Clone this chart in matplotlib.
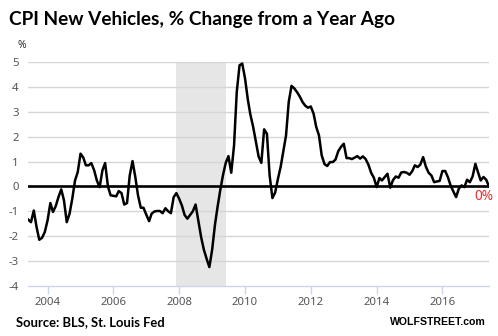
import matplotlib
matplotlib.use("Agg")
import matplotlib.pyplot as plt
import matplotlib.dates as mdates
import pandas as pd

# Monthly year-over-year change in CPI for new vehicles, Jun 2003 - Jun 2017
start_month = "2003-06-01"
cpi_yoy = [
    -1.34, -1.44, -0.97, -1.64, -2.15, -2.07, -1.84, -1.37, -0.67, -1.03,
    -0.79, -0.43, -0.12, -0.56, -1.44, -1.10, -0.50, 0.24, 0.58, 1.32,
    1.16, 0.85, 0.85, 0.94, 0.65, 0.24, -0.03, 0.65, 0.94, 0.00,
    -0.36, -0.38, -0.40, -0.19, -0.27, -0.73, -0.67, 0.44, 1.02, 0.38,
    -0.36, -0.86, -0.86, -1.14, -1.40, -1.10, -1.01, -0.99, -0.99, -1.08,
    -0.88, -1.00, -1.08, -0.43, -0.27, -0.50, -0.78, -1.15, -1.30, -1.15,
    -1.00, -0.73, -1.40, -2.05, -2.55, -2.92, -3.25, -2.55, -1.55, -0.85,
    -0.15, 0.45, 0.95, 1.22, 0.55, 1.65, 3.80, 4.88, 4.95, 4.35,
    3.50, 2.90, 2.40, 1.80, 1.20, 0.95, 2.30, 2.12, 0.44, -0.47,
    -0.25, 0.30, 0.80, 1.40, 2.05, 3.40, 4.05, 3.95, 3.80, 3.62,
    3.40, 3.25, 3.17, 3.22, 2.93, 2.40, 2.05, 1.25, 0.90, 0.82,
    0.98, 0.98, 1.08, 1.42, 1.59, 1.72, 1.14, 1.14, 1.10, 1.16,
    1.22, 1.12, 1.21, 1.10, 0.88, 0.55, 0.35, -0.03, 0.34, 0.24,
    0.38, 0.51, -0.05, 0.25, 0.40, 0.35, 0.56, 0.58, 0.55, 0.47,
    0.62, 0.85, 0.78, 0.88, 1.18, 0.80, 0.55, 0.44, 0.17, 0.20,
    0.22, 0.62, 0.62, 0.38, 0.04, -0.20, -0.43, -0.09, 0.04, -0.03,
    0.27, 0.17, 0.40, 0.91, 0.55, 0.24, 0.38, 0.27, 0.00,
]
recession = ("2007-12-01", "2009-06-01")
y_ticks = [-4, -3, -2, -1, 0, 1, 2, 3, 4, 5]
x_tick_years = [2004, 2006, 2008, 2010, 2012, 2014, 2016]

dates = pd.date_range(start_month, periods=len(cpi_yoy), freq="MS")

fig = plt.figure(figsize=(4.98, 3.36), dpi=100)
ax = fig.add_axes([0.0568, 0.1497, 0.9251, 0.6649])

ax.axvspan(pd.Timestamp(recession[0]), pd.Timestamp(recession[1]),
           color="#e6e6e6", lw=0, zorder=0)
for v in y_ticks[1:]:
    ax.axhline(v, color="#d6d6d6", lw=1.0, zorder=1)
ax.axhline(0, color="black", lw=1.9, zorder=2)
ax.plot(dates, cpi_yoy, color="black", lw=1.8, zorder=3,
        solid_joinstyle="round")

ax.set_xlim(dates[0], dates[-1])
ax.set_ylim(-4, 5)
ax.set_yticks(y_ticks)
ax.set_yticklabels([str(v) for v in y_ticks])
ax.set_xticks([pd.Timestamp(f"{y}-01-01") for y in x_tick_years])
ax.xaxis.set_major_formatter(mdates.DateFormatter("%Y"))

for s in ["top", "right", "left"]:
    ax.spines[s].set_visible(False)
ax.spines["bottom"].set_color("#ccd6eb")
ax.spines["bottom"].set_linewidth(1.0)
ax.tick_params(axis="x", colors="#ccd6eb", length=6, width=1.0, pad=2,
               labelcolor="#555555", labelsize=8.2)
ax.tick_params(axis="y", length=0, pad=7, labelcolor="#555555",
               labelsize=8.2)
for lbl in ax.get_xticklabels() + ax.get_yticklabels():
    lbl.set_family("Noto Sans")

# Final value label
last = cpi_yoy[-1]
ax.annotate(f"{last:.0f}%", xy=(dates[-1], last), xytext=(-4, -2),
            textcoords="offset points", ha="center", va="top",
            color="#ee2a2a", fontsize=9.8, family="Noto Sans", zorder=4)

fig.text(9 / 498, 1 - 20 / 336, "CPI New Vehicles, % Change from a Year Ago",
         fontsize=13.7, fontweight="bold", family="Lato", va="center",
         ha="left", color="black")
fig.text(17 / 498, 1 - 45.5 / 336, "%", fontsize=7.5, fontweight="bold",
         family="Noto Sans", va="center", ha="left", color="#333333")
fig.text(16 / 498, 1 - 321.7 / 336, "Source: BLS, St. Louis Fed",
         fontsize=9.4, fontweight="bold", family="Lato", va="center",
         ha="left", color="black")
fig.text(486 / 498, 1 - 321.7 / 336, "WOLFSTREET.com", fontsize=7.6,
         fontweight="bold", family="Liberation Sans", va="center",
         ha="right", color="black")

fig.savefig("out.png", dpi=100)
